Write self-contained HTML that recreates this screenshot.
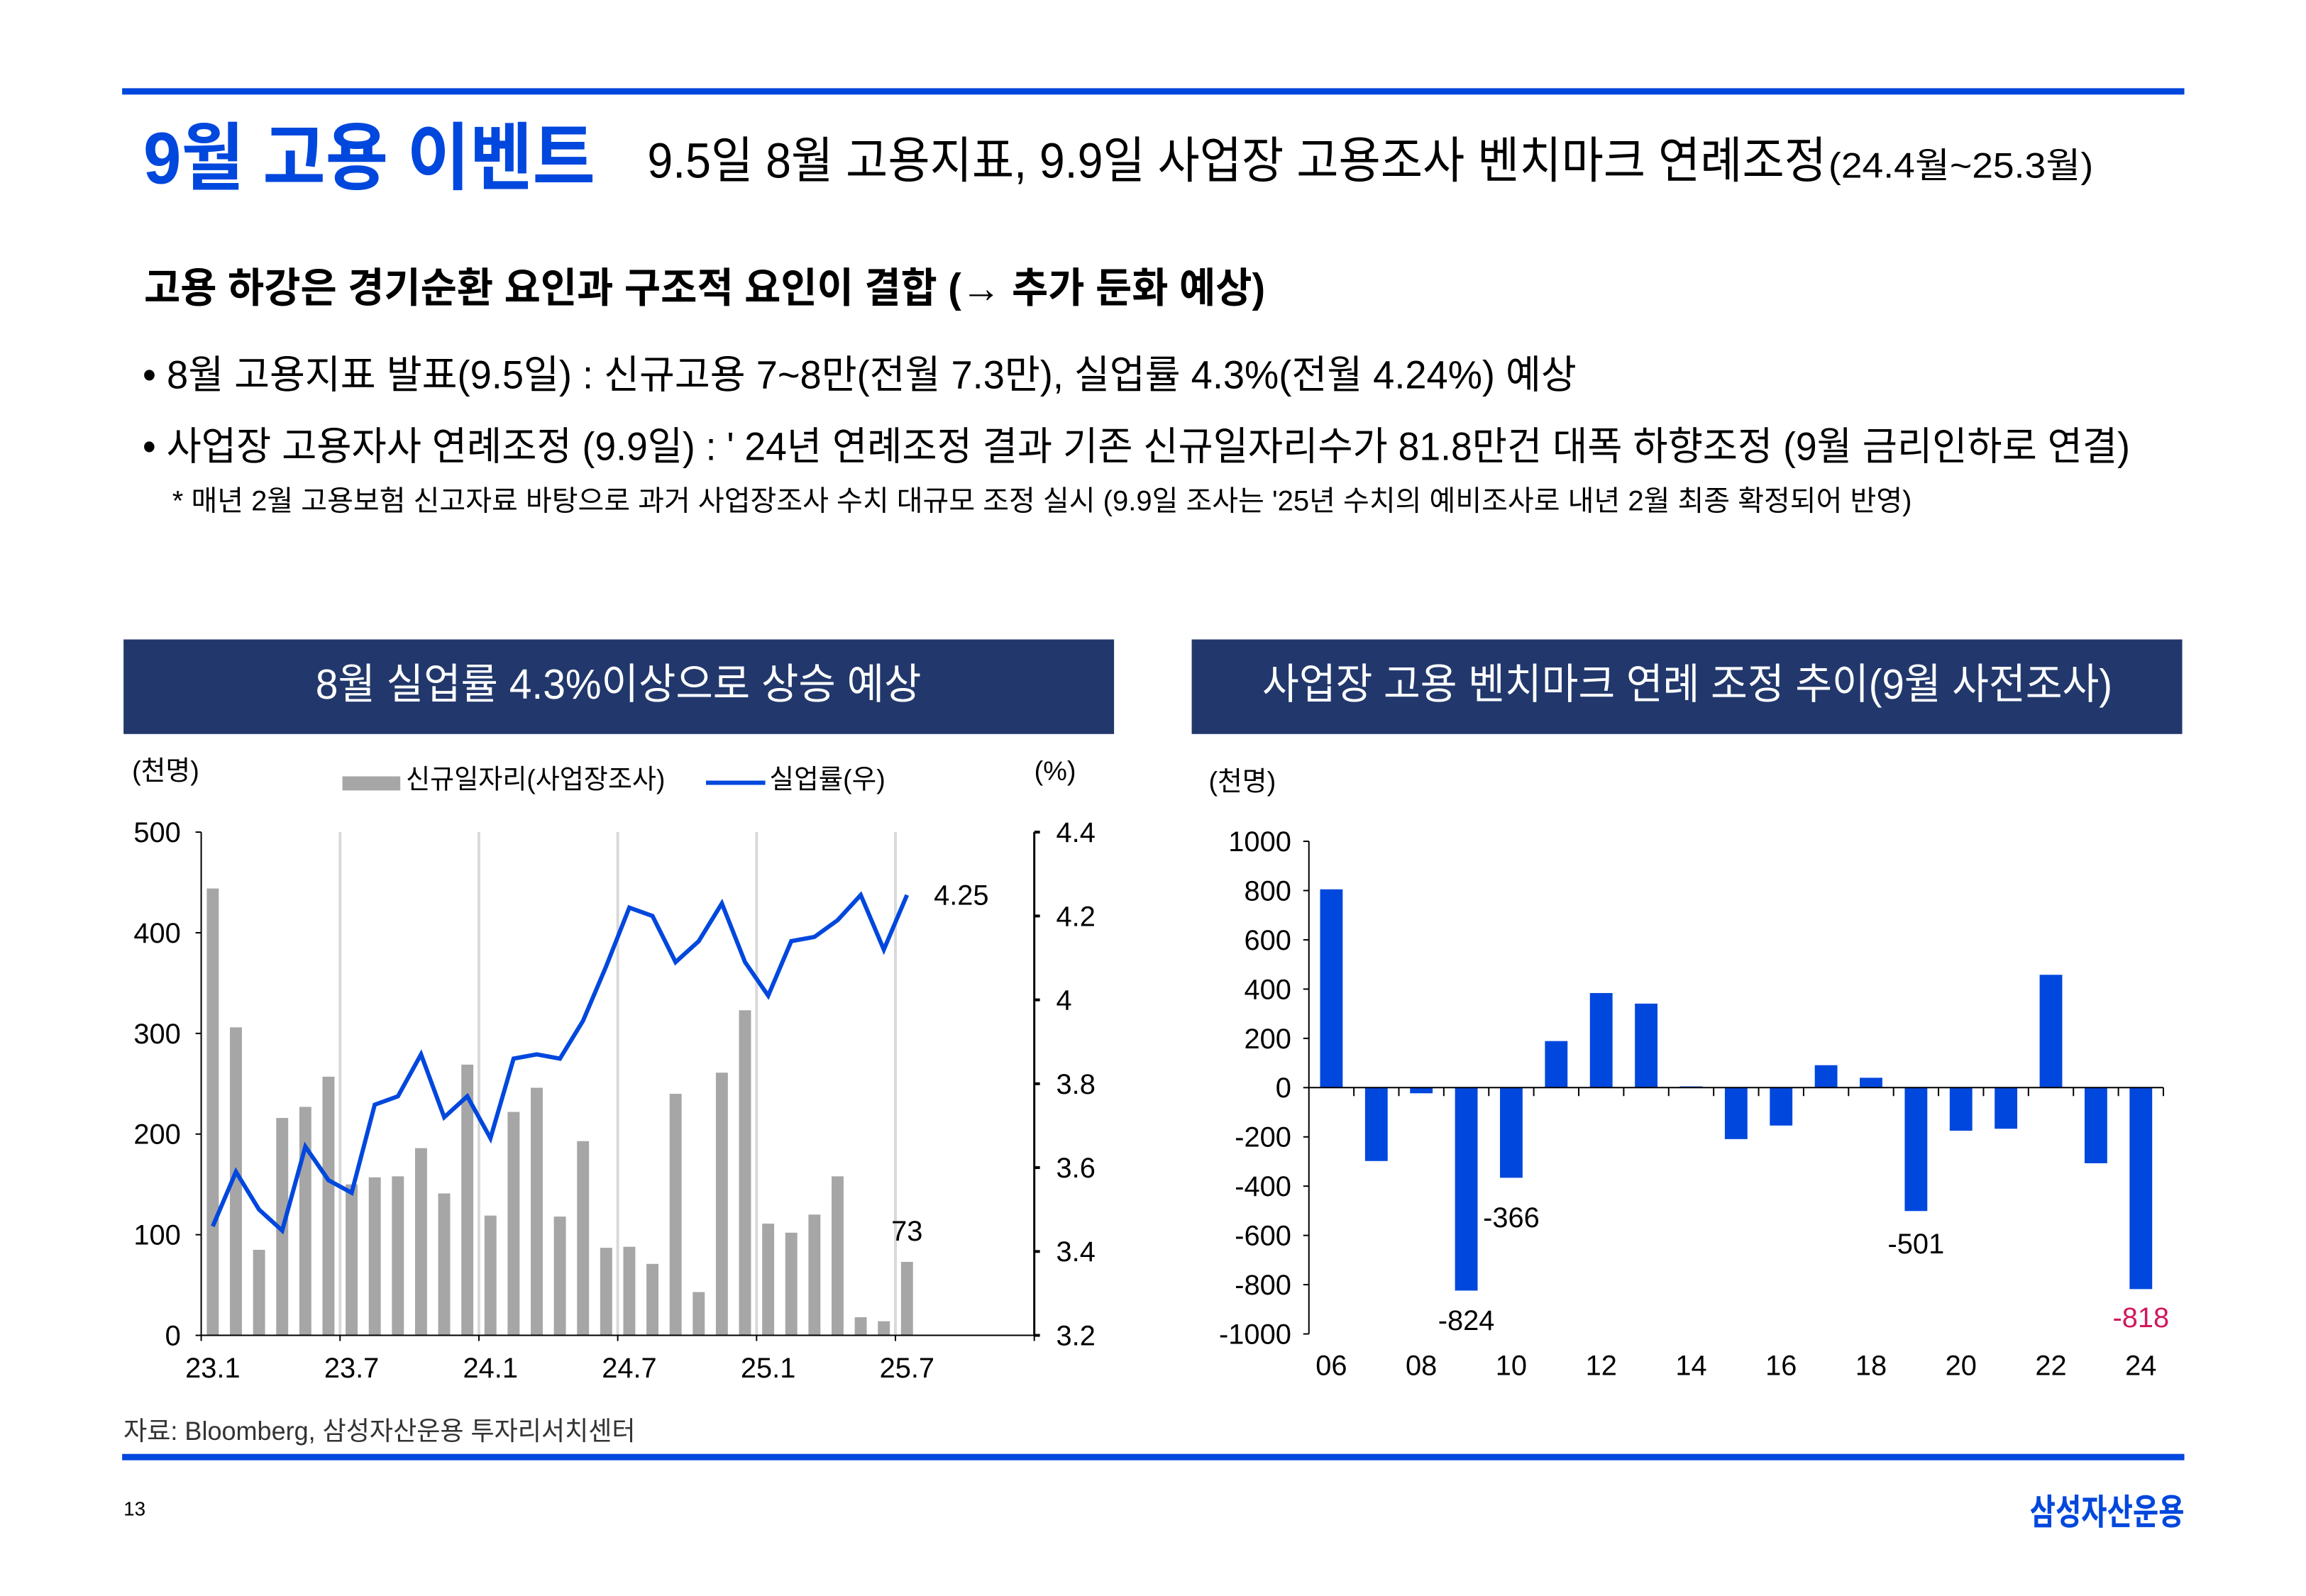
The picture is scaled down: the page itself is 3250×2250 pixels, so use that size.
<!DOCTYPE html>
<html><head><meta charset="utf-8">
<style>
html,body{margin:0;padding:0;background:#fff;}
svg{display:block;}
text{font-family:"Liberation Sans","Noto Sans CJK KR",sans-serif;}
</style></head>
<body>
<svg id="page" width="3250" height="2250" viewBox="0 0 3250 2250" xmlns="http://www.w3.org/2000/svg">
<rect x="0" y="0" width="3250" height="2250" fill="#fff"/>
<g transform="scale(0.995)">
<rect x="173" y="125" width="2921" height="9" fill="#0047dd"/>
<text x="203" y="260" font-size="104" font-weight="bold" fill="#0047dd" textLength="640" lengthAdjust="spacingAndGlyphs">9월 고용 이벤트</text>
<text x="917" y="252" font-size="70" fill="#000" textLength="1670" lengthAdjust="spacingAndGlyphs">9.5일 8월 고용지표, 9.9일 사업장 고용조사 벤치마크 연례조정</text>
<text x="2590" y="252" font-size="50" fill="#000" textLength="375" lengthAdjust="spacingAndGlyphs">(24.4월~25.3월)</text>
<text x="204" y="428" font-size="58" font-weight="bold" fill="#000" textLength="1588" lengthAdjust="spacingAndGlyphs">고용 하강은 경기순환 요인과 구조적 요인이 결합 (→ 추가 둔화 예상)</text>
<text x="202" y="550" font-size="56" fill="#000" textLength="2031" lengthAdjust="spacingAndGlyphs">• 8월 고용지표 발표(9.5일) : 신규고용 7~8만(전월 7.3만), 실업률 4.3%(전월 4.24%) 예상</text>
<text x="202" y="652" font-size="56" fill="#000" textLength="2815" lengthAdjust="spacingAndGlyphs">• 사업장 고용자사 연례조정 (9.9일) : ' 24년 연례조정 결과 기존 신규일자리수가 81.8만건 대폭 하향조정 (9월 금리인하로 연결)</text>
<text x="244" y="723" font-size="40" fill="#000" textLength="2464" lengthAdjust="spacingAndGlyphs">* 매년 2월 고용보험 신고자료 바탕으로 과거 사업장조사 수치 대규모 조정 실시 (9.9일 조사는 '25년 수치의 예비조사로 내년 2월 최종 확정되어 반영)</text>

<rect x="175" y="906" width="1403" height="134" fill="#22386c"/>
<text x="876" y="990" font-size="60" fill="#fff" text-anchor="middle" textLength="858" lengthAdjust="spacingAndGlyphs">8월 실업률 4.3%이상으로 상승 예상</text>
<rect x="1688" y="906" width="1403" height="134" fill="#22386c"/>
<text x="2390" y="990" font-size="60" fill="#fff" text-anchor="middle" textLength="1204" lengthAdjust="spacingAndGlyphs">사업장 고용 벤치마크 연례 조정 추이(9월 사전조사)</text>

<text x="187" y="1105" font-size="38" fill="#000">(천명)</text>
<rect x="485" y="1100" width="82" height="20" fill="#a6a6a6"/>
<text x="575" y="1117" font-size="38" fill="#000" textLength="367" lengthAdjust="spacingAndGlyphs">신규일자리(사업장조사)</text>
<line x1="1000" y1="1109" x2="1084" y2="1109" stroke="#0047dd" stroke-width="6"/>
<text x="1090" y="1117" font-size="38" fill="#000" textLength="164" lengthAdjust="spacingAndGlyphs">실업률(우)</text>
<text x="1465" y="1105" font-size="38" fill="#000">(%)</text>
<text x="1712" y="1120" font-size="38" fill="#000">(천명)</text>

<g id="left-chart"></g>
<g id="right-chart"></g>

<text x="175" y="2040" font-size="37" fill="#333" textLength="725" lengthAdjust="spacingAndGlyphs">자료: Bloomberg, 삼성자산운용 투자리서치센터</text>
<rect x="173" y="2060" width="2921" height="9" fill="#0047dd"/>
<text x="175" y="2147" font-size="28" fill="#000">13</text>
<text x="3094" y="2160" font-size="50" font-weight="bold" fill="#0047dd" text-anchor="end" textLength="219" lengthAdjust="spacingAndGlyphs">삼성자산운용</text>
</g>
</svg>
<script>
// Left chart data
const jobMonths = ["23.1","23.2","23.3","23.4","23.5","23.6","23.7","23.8","23.9","23.10","23.11","23.12","24.1","24.2","24.3","24.4","24.5","24.6","24.7","24.8","24.9","24.10","24.11","24.12","25.1","25.2","25.3","25.4","25.5","25.6","25.7"];
const jobGains = [444,306,85,216,227,257,150,157,158,186,141,269,119,222,246,118,193,87,88,71,240,43,261,323,111,102,120,158,18,14,73];
const unempRate = [3.46,3.59,3.50,3.45,3.65,3.57,3.54,3.75,3.77,3.87,3.72,3.77,3.67,3.86,3.87,3.86,3.95,4.08,4.22,4.20,4.09,4.14,4.23,4.09,4.01,4.14,4.15,4.19,4.25,4.12,4.25];
const leftTicks = [0,100,200,300,400,500];
const rightTicks = ["3.2","3.4","3.6","3.8","4","4.2","4.4"];
const xTickLabels = ["23.1","23.7","24.1","24.7","25.1","25.7"];
// Right chart data
const benchYears = ["06","07","08","09","10","11","12","13","14","15","16","17","18","19","20","21","22","23","24"];
const benchRevisions = [805,-298,-23,-824,-366,189,384,341,5,-209,-154,91,40,-501,-175,-167,458,-307,-818];
const benchTicks = [1000,800,600,400,200,0,-200,-400,-600,-800,-1000];
const benchLabelYears = ["06","08","10","12","14","16","18","20","22","24"];

const NS = "http://www.w3.org/2000/svg";
function mk(parent, tag, attrs, txt){
  const e = document.createElementNS(NS, tag);
  for (const k in attrs) e.setAttribute(k, attrs[k]);
  if (txt !== undefined) e.textContent = txt;
  parent.appendChild(e); return e;
}

// ---- Left chart ----
const L = document.getElementById('left-chart');
const lx0 = 285, lx1 = 1465, ly0 = 1892, ly1 = 1179, slots = 36;
const step = (lx1 - lx0) / slots;
const xL = i => lx0 + (i + 0.5) * step;
const yL = v => ly0 - (v / 500) * (ly0 - ly1);
const yR = v => ly0 - ((v - 3.2) / 1.2) * (ly0 - ly1);

for (let k = 6; k <= 30; k += 6) {
  const g = mk(L, 'line', {x1: lx0 + k*step, y1: ly1, x2: lx0 + k*step, y2: ly0, stroke: '#d9d9d9', 'stroke-width': 4});
  
  
}
jobGains.forEach((v, i) => {
  const r = mk(L, 'rect', {x: xL(i) - 8.5, y: yL(v), width: 17, height: yL(0) - yL(v), fill: '#a6a6a6'});
  
  
});
const pts = unempRate.map((v, i) => xL(i).toFixed(1) + ',' + yR(v).toFixed(1)).join(' ');
const pl = mk(L, 'polyline', {points: pts, fill: 'none', stroke: '#0047dd', 'stroke-width': 6, 'stroke-linejoin': 'miter'});



let a = mk(L, 'line', {x1: lx0, y1: ly1, x2: lx0, y2: ly0, stroke: '#000', 'stroke-width': 2});


a = mk(L, 'line', {x1: lx1, y1: ly1, x2: lx1, y2: ly0, stroke: '#000', 'stroke-width': 3});


a = mk(L, 'line', {x1: lx0, y1: ly0, x2: lx1, y2: ly0, stroke: '#000', 'stroke-width': 2});


leftTicks.forEach(v => {
  mk(L, 'line', {x1: lx0 - 8, y1: yL(v), x2: lx0, y2: yL(v), stroke: '#000', 'stroke-width': 2});
  const t = mk(L, 'text', {x: 256, y: yL(v) + 14, 'font-size': 40, 'text-anchor': 'end', fill: '#000'}, v);
  
  
});
rightTicks.forEach(s => {
  const v = parseFloat(s);
  mk(L, 'line', {x1: lx1, y1: yR(v), x2: lx1 + 8, y2: yR(v), stroke: '#000', 'stroke-width': 4});
  const t = mk(L, 'text', {x: 1496, y: yR(v) + 14, 'font-size': 40, fill: '#000'}, s);
  
  
});
for (let k = 0; k <= slots; k += 6) {
  mk(L, 'line', {x1: lx0 + k*step, y1: ly0, x2: lx0 + k*step, y2: ly0 + 8, stroke: '#000', 'stroke-width': 2});
}
xTickLabels.forEach(s => {
  const i = jobMonths.indexOf(s);
  const t = mk(L, 'text', {x: xL(i), y: 1952, 'font-size': 40, 'text-anchor': 'middle', fill: '#000'}, s);
  
  
});
const last = jobGains.length - 1;
let lab = mk(L, 'text', {x: xL(last) + 38, y: yR(unempRate[last]) + 14, 'font-size': 40, fill: '#000'}, unempRate[last].toFixed(2));


lab = mk(L, 'text', {x: xL(last), y: yL(jobGains[last]) - 30, 'font-size': 40, 'text-anchor': 'middle', fill: '#000'}, jobGains[last]);



// ---- Right chart ----
const R = document.getElementById('right-chart');
const rx0 = 1854, rstep = 63.7, ry1000 = 1192, ryM1000 = 1890;
const xB = i => rx0 + (i + 0.5) * rstep;
const yB = v => (ry1000 + ryM1000) / 2 - v * (ryM1000 - ry1000) / 2000;
benchRevisions.forEach((v, i) => {
  const top = Math.min(yB(v), yB(0)), h = Math.abs(yB(v) - yB(0));
  const r = mk(R, 'rect', {x: xB(i) - 16, y: top, width: 32, height: Math.max(h, 1), fill: '#0047dd'});
  
  
});
const rEnd = rx0 + benchYears.length * rstep;
a = mk(R, 'line', {x1: rx0, y1: ry1000, x2: rx0, y2: ryM1000, stroke: '#000', 'stroke-width': 2});


a = mk(R, 'line', {x1: rx0, y1: yB(0), x2: rEnd, y2: yB(0), stroke: '#000', 'stroke-width': 2});


for (let k = 1; k <= benchYears.length; k++) {
  mk(R, 'line', {x1: rx0 + k*rstep, y1: yB(0), x2: rx0 + k*rstep, y2: yB(0) + 12, stroke: '#000', 'stroke-width': 2});
}
benchTicks.forEach(v => {
  mk(R, 'line', {x1: rx0 - 8, y1: yB(v), x2: rx0, y2: yB(v), stroke: '#000', 'stroke-width': 2});
  const t = mk(R, 'text', {x: 1829, y: yB(v) + 14, 'font-size': 40, 'text-anchor': 'end', fill: '#000'}, v < 0 ? '-' + Math.abs(v) : v);
  
  
});
benchLabelYears.forEach(s => {
  const i = benchYears.indexOf(s);
  const t = mk(R, 'text', {x: xB(i), y: 1948, 'font-size': 40, 'text-anchor': 'middle', fill: '#000'}, s);
  
  
});
const annotate = [["09", 0, 56, '#000'], ["10", 0, 70, '#000'], ["19", 0, 60, '#000'], ["24", 0, 54, '#d0195e']];
annotate.forEach(([yr, dx, dy, col]) => {
  const i = benchYears.indexOf(yr), v = benchRevisions[i];
  const t = mk(R, 'text', {x: xB(i) + dx, y: yB(v) + dy, 'font-size': 40, 'text-anchor': 'middle', fill: col}, '-' + Math.abs(v));
  
  
});
</script>
</body></html>
